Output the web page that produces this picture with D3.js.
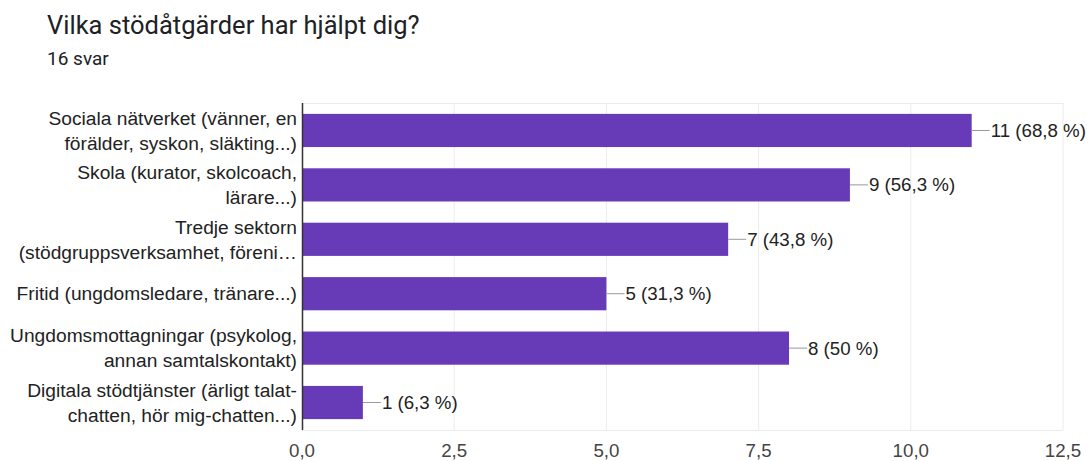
<!DOCTYPE html>
<html><head><meta charset="utf-8">
<script src="https://cdn.jsdelivr.net/npm/d3@7"></script>
<style>body{margin:0;background:#fff;} svg{display:block;}</style>
</head><body>
<svg id="c" width="1089" height="461"></svg>
<script>
const categories = [
  ["Sociala nätverket (vänner, en", "förälder, syskon, släkting...)"],
  ["Skola (kurator, skolcoach,", "lärare...)"],
  ["Tredje sektorn", "(stödgruppsverksamhet, föreni…"],
  ["Fritid (ungdomsledare, tränare...)"],
  ["Ungdomsmottagningar (psykolog,", "annan samtalskontakt)"],
  ["Digitala stödtjänster (ärligt talat-", "chatten, hör mig-chatten...)"]
];
const values = [11, 9, 7, 5, 8, 1];
const percents = ["68,8 %", "56,3 %", "43,8 %", "31,3 %", "50 %", "6,3 %"];
const ticks = [0, 2.5, 5, 7.5, 10, 12.5];
const tickLabels = ["0,0", "2,5", "5,0", "7,5", "10,0", "12,5"];

(function(){
const svg = d3.select("#c");
const pL = 302, pR = 1063, pT = 103, pB = 430;
const FS = 18.7;
const FONT = "Liberation Sans, Arial, sans-serif";
const x = d3.scaleLinear().domain([0, 12.5]).range([pL, pR]);
const y = d3.scaleBand().domain(d3.range(categories.length)).range([pT, pB]).paddingInner(0.39).paddingOuter(0.2);

svg.append("text").attr("x", 47).attr("y", 33.5).attr("font-family", "Roboto").attr("font-size", 25.5).attr("fill", "#202124").text("Vilka stödåtgärder har hjälpt dig?");
svg.append("text").attr("x", 47).attr("y", 65).attr("font-family", "Roboto").attr("font-size", 19).attr("fill", "#202124").text("16 svar");

// grid
svg.append("g").selectAll("line").data(ticks.slice(1)).join("line")
  .attr("x1", d => x(d)).attr("x2", d => x(d)).attr("y1", pT).attr("y2", pB)
  .attr("stroke", "#ebebeb").attr("stroke-width", 1);
svg.append("line").attr("x1", pL).attr("x2", pR).attr("y1", pT + 0.5).attr("y2", pT + 0.5).attr("stroke", "#ebebeb");
svg.append("line").attr("x1", pL).attr("x2", pR).attr("y1", pB + 0.5).attr("y2", pB + 0.5).attr("stroke", "#ebebeb");

// bars
svg.append("g").selectAll("rect").data(values).join("rect")
  .attr("x", x(0)).attr("y", (d, i) => y(i)).attr("width", d => x(d) - x(0)).attr("height", y.bandwidth())
  .attr("fill", "#673ab7");

// axis line
svg.append("line").attr("x1", pL + 0.5).attr("x2", pL + 0.5).attr("y1", pT).attr("y2", pB).attr("stroke", "#333").attr("stroke-width", 1.5);

// value labels
const vl = svg.append("g");
values.forEach((v, i) => {
  const cy = y(i) + y.bandwidth() / 2;
  vl.append("line").attr("x1", x(v)).attr("x2", x(v) + 18).attr("y1", cy).attr("y2", cy).attr("stroke", "#999").attr("stroke-width", 1);
  vl.append("text").attr("x", x(v) + 19).attr("y", cy).attr("dy", "0.35em")
    .attr("font-family", FONT).attr("font-size", FS).attr("fill", "#222")
    .text(v + " (" + percents[i] + ")");
});

// category labels
const cl = svg.append("g");
categories.forEach((lines, i) => {
  const cy = y(i) + y.bandwidth() / 2;
  const lh = 25;
  const t = cl.append("text").attr("text-anchor", "end").attr("font-family", FONT).attr("font-size", 19.2).attr("fill", "#222");
  lines.forEach((ln, j) => {
    t.append("tspan").attr("x", 297).attr("y", cy + (j - (lines.length - 1) / 2) * lh).attr("dy", "0.35em").text(ln);
  });
});

// x tick labels
svg.append("g").selectAll("text").data(ticks).join("text")
  .attr("x", d => x(d)).attr("y", 457).attr("text-anchor", "middle")
  .attr("font-family", FONT).attr("font-size", FS).attr("fill", "#444")
  .text((d, i) => tickLabels[i]);
})();
</script>
</body></html>
